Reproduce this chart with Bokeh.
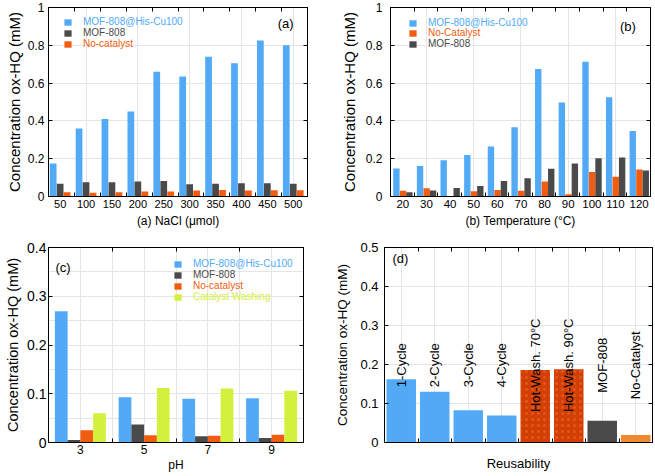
import math
from bokeh.plotting import figure
from bokeh.models import (FixedTicker, LinearAxis, Range1d, Label, Legend,
                          LegendItem, ColumnDataSource)
from bokeh.layouts import column, row
from bokeh.embed import file_html
from bokeh.resources import INLINE
from bokeh.core.properties import value

FONT = "Liberation Sans"

# ---------------- data ----------------
# (a) NaCl
nacl_labels = ["50", "100", "150", "200", "250", "300", "350", "400", "450", "500"]
a_his = [0.175, 0.36, 0.41, 0.45, 0.66, 0.635, 0.74, 0.705, 0.825, 0.80]
a_mof = [0.068, 0.076, 0.076, 0.080, 0.082, 0.065, 0.068, 0.070, 0.070, 0.068]
a_none = [0.022, 0.020, 0.022, 0.027, 0.027, 0.032, 0.035, 0.032, 0.033, 0.033]

# (b) Temperature
temp_labels = ["20", "30", "40", "50", "60", "70", "80", "90", "100", "110", "120"]
b_his = [0.148, 0.162, 0.192, 0.220, 0.265, 0.367, 0.675, 0.497, 0.713, 0.525, 0.347]
b_none = [0.030, 0.043, 0.003, 0.028, 0.035, 0.030, 0.080, 0.012, 0.130, 0.105, 0.143]
b_mof = [0.022, 0.032, 0.045, 0.055, 0.082, 0.097, 0.147, 0.175, 0.202, 0.207, 0.138]

# (c) pH
ph_labels = ["3", "5", "7", "9"]
c_his = [0.269, 0.093, 0.090, 0.091]
c_mof = [0.005, 0.037, 0.013, 0.009]
c_none = [0.025, 0.015, 0.014, 0.016]
c_wash = [0.060, 0.112, 0.111, 0.106]

# (d) Reusability
reuse_labels = ["1-Cycle", "2-Cycle", "3-Cycle", "4-Cycle",
                "Hot-Wash. 70°C", "Hot-Wash. 90°C", "MOF-808", "No-Catalyst"]
reuse_values = [0.162, 0.130, 0.083, 0.069, 0.186, 0.188, 0.056, 0.019]

# ---------------- styles ----------------
BLUE = "#52AAF6"
GRAY = "#4A4A4A"
ORANGE = "#F25C10"
GREEN = "#D3F03C"
RED = "#D33E02"
LORANGE = "#F08A30"
YLABEL = "Concentration ox-HQ (mM)"
reuse_colors = [BLUE, BLUE, BLUE, BLUE, RED, RED, GRAY, LORANGE]
reuse_hatch = [" ", " ", " ", " ", "dot", "dot", " ", " "]


def make_fig(w, h, bl, br, bt, bb, xr, ymax, yticks, ylabels,
             centers, bounds, xlabels, xtitle,
             ytick_size, ytick_standoff, ylab_size, ylab_standoff,
             xtick_size="11px", xtitle_size="12px", xtick_standoff=3, xtitle_standoff=3):
    p = figure(width=w, height=h, output_backend="svg", toolbar_location=None,
               x_range=Range1d(*xr), y_range=Range1d(0, ymax),
               x_axis_location=None, y_axis_location=None,
               min_border_left=bl, min_border_right=br,
               min_border_top=bt, min_border_bottom=bb)
    p.outline_line_color = "black"
    p.outline_line_width = 1
    p.background_fill_color = "white"
    p.border_fill_color = "white"

    def style(ax):
        ax.axis_line_color = "black"
        ax.major_tick_line_color = "black"
        ax.minor_tick_line_color = "black"
        ax.major_label_text_font = FONT
        ax.axis_label_text_font = FONT
        ax.axis_label_text_font_style = "normal"
        ax.axis_label_text_color = "black"
        ax.major_label_text_color = "black"

    # left y axis
    yl = LinearAxis(ticker=FixedTicker(ticks=yticks),
                    major_label_overrides={t: s for t, s in zip(yticks, ylabels)},
                    axis_label=YLABEL)
    style(yl)
    yl.major_tick_in = 4
    yl.major_tick_out = 0
    yl.minor_tick_in = 0
    yl.minor_tick_out = 0
    yl.major_label_text_font_size = ytick_size
    yl.major_label_standoff = ytick_standoff
    yl.axis_label_text_font_size = ylab_size
    yl.axis_label_standoff = ylab_standoff
    p.add_layout(yl, "left")

    # right mirror ticks
    yr = LinearAxis(ticker=FixedTicker(ticks=[], minor_ticks=yticks))
    style(yr)
    yr.major_tick_in = 0
    yr.major_tick_out = 0
    yr.minor_tick_in = 4
    yr.minor_tick_out = 0
    yr.major_label_standoff = 0
    p.add_layout(yr, "right")

    # bottom x axis (labels at group centres, tick marks at group boundaries)
    xb = LinearAxis(ticker=FixedTicker(ticks=centers if xlabels else [], minor_ticks=bounds),
                    axis_label=xtitle)
    if xlabels:
        xb.major_label_overrides = {c: s for c, s in zip(centers, xlabels)}
    style(xb)
    xb.major_tick_in = 0
    xb.major_tick_out = 0
    xb.minor_tick_in = 4
    xb.minor_tick_out = 0
    xb.major_label_text_font_size = xtick_size
    xb.major_label_standoff = xtick_standoff
    xb.axis_label_text_font_size = xtitle_size
    xb.axis_label_standoff = xtitle_standoff
    p.add_layout(xb, "below")

    # top mirror ticks
    xt = LinearAxis(ticker=FixedTicker(ticks=[], minor_ticks=bounds))
    style(xt)
    xt.major_tick_in = 0
    xt.major_tick_out = 0
    xt.minor_tick_in = 4
    xt.minor_tick_out = 0
    xt.major_label_standoff = 0
    p.add_layout(xt, "above")
    return p


def add_key(p, renderer, text, color, x_off, y_from_top, frame_h):
    lg = Legend(items=[LegendItem(label=text, renderers=[renderer])],
                location=(x_off, frame_h - y_from_top - 5),
                border_line_alpha=0, background_fill_alpha=0,
                padding=0, margin=0, spacing=0,
                glyph_width=9, glyph_height=8, label_height=10, label_width=10,
                label_standoff=11, label_text_font=FONT,
                label_text_font_size="10px", label_text_color=color)
    p.add_layout(lg)


def shifted(n, off):
    return [i + 1 + off for i in range(n)]


TOP_H = 230
BOT_H = 246
TOP_BT, TOP_BB = 7, 34
BOT_BT, BOT_BB = 17, 34
fh_top = TOP_H - TOP_BT - TOP_BB
fh_bot = BOT_H - BOT_BT - BOT_BB

# ---------------- panel (a) ----------------
na = len(nacl_labels)
ca = list(range(1, na + 1))
pa = make_fig(325, TOP_H, 48, 18, TOP_BT, TOP_BB, (0.55, na + 0.55), 1,
              [0, 0.2, 0.4, 0.6, 0.8, 1], ["0", "0.2", "0.4", "0.6", "0.8", "1"],
              ca, [c + 0.55 for c in ca[:-1]], nacl_labels, "(a) NaCl (μmol)",
              "12px", 4, "15px", 2)
ra1 = pa.vbar(x=shifted(na, -0.27), top=a_his, width=0.26, fill_color=BLUE, line_color=None)
ra2 = pa.vbar(x=shifted(na, 0.0), top=a_mof, width=0.26, fill_color=GRAY, line_color=None)
ra3 = pa.vbar(x=shifted(na, 0.27), top=a_none, width=0.26, fill_color=ORANGE, line_color=None)
add_key(pa, ra1, "MOF-808@His-Cu100", BLUE, 15, 15, fh_top)
add_key(pa, ra2, "MOF-808", GRAY, 15, 26, fh_top)
add_key(pa, ra3, "No-catalyst", ORANGE, 15, 37, fh_top)
pa.add_layout(Label(x=10.01, y=0.915, text="(a)", text_align="right", text_baseline="middle",
                    text_font=FONT, text_font_size="13px", text_color="black"))

# ---------------- panel (b) ----------------
nb = len(temp_labels)
cb = list(range(1, nb + 1))
pb = make_fig(330, TOP_H, 65, 5, TOP_BT, TOP_BB, (0.48, nb + 0.48), 1,
              [0, 0.2, 0.4, 0.6, 0.8, 1], ["0", "0.2", "0.4", "0.6", "0.8", "1"],
              cb, [c + 0.48 for c in cb[:-1]], temp_labels, "(b) Temperature (°C)",
              "12px", 8, "15px", 5, xtick_size="11.5px")
rb1 = pb.vbar(x=shifted(nb, -0.27), top=b_his, width=0.27, fill_color=BLUE, line_color=None)
rb2 = pb.vbar(x=shifted(nb, 0.01), top=b_none, width=0.27, fill_color=ORANGE, line_color=None)
rb3 = pb.vbar(x=shifted(nb, 0.28), top=b_mof, width=0.27, fill_color=GRAY, line_color=None)
add_key(pb, rb1, "MOF-808@His-Cu100", BLUE, 18, 16, fh_top)
add_key(pb, rb2, "No-Catalyst", ORANGE, 18, 26, fh_top)
add_key(pb, rb3, "MOF-808", GRAY, 18, 37, fh_top)
pb.add_layout(Label(x=10.86, y=0.9, text="(b)", text_align="right", text_baseline="middle",
                    text_font=FONT, text_font_size="13px", text_color="black"))

# ---------------- panel (c) ----------------
nc = len(ph_labels)
cc = list(range(1, nc + 1))
pc = make_fig(325, BOT_H, 48, 22, BOT_BT, BOT_BB, (0.5, nc + 0.5), 0.4,
              [0, 0.1, 0.2, 0.3, 0.4], ["0", "0.1", "0.2", "0.3", "0.4"],
              cc, [c + 0.5 for c in cc[:-1]], ph_labels, "pH",
              "14px", 2, "14.5px", 3, xtick_size="12px", xtick_standoff=2, xtitle_standoff=1)
rc1 = pc.vbar(x=shifted(nc, -0.3), top=c_his, width=0.2, fill_color=BLUE, line_color=None)
rc2 = pc.vbar(x=shifted(nc, -0.1), top=c_mof, width=0.2, fill_color=GRAY, line_color=None)
rc3 = pc.vbar(x=shifted(nc, 0.1), top=c_none, width=0.2, fill_color=ORANGE, line_color=None)
rc4 = pc.vbar(x=shifted(nc, 0.3), top=c_wash, width=0.2, fill_color=GREEN, line_color=None)
add_key(pc, rc1, "MOF-808@His-Cu100", BLUE, 125, 17, fh_bot)
add_key(pc, rc2, "MOF-808", GRAY, 125, 28, fh_bot)
add_key(pc, rc3, "No-catalyst", ORANGE, 125, 39, fh_bot)
add_key(pc, rc4, "Catalyst Washing", GREEN, 125, 50, fh_bot)
pc.add_layout(Label(x=0.61, y=0.359, text="(c)", text_align="left", text_baseline="middle",
                    text_font=FONT, text_font_size="13px", text_color="black"))

# ---------------- panel (d) ----------------
nd = len(reuse_labels)
cd = list(range(1, nd + 1))
pd_ = make_fig(330, BOT_H, 59, 3, BOT_BT, BOT_BB, (0.5, nd + 0.5), 0.5,
               [0, 0.1, 0.2, 0.3, 0.4, 0.5], ["0", "0.1", "0.2", "0.3", "0.4", "0.5"],
               cd, [c + 0.5 for c in cd[:-1]], None, "Reusability",
               "13px", 6, "13.5px", 7, xtitle_size="13px", xtitle_standoff=13)
src_d = ColumnDataSource(dict(x=cd, top=reuse_values, label=reuse_labels,
                              color=reuse_colors, hatch=reuse_hatch,
                              ly=[0.198] * nd))
pd_.vbar(x="x", top="top", width=0.88, source=src_d, fill_color="color",
         line_color=None, hatch_pattern="hatch", hatch_color="#F58A4A",
         hatch_alpha=0.35, hatch_scale=6, hatch_weight=0.8)
pd_.text(x="x", y="ly", text="label", source=src_d, angle=math.pi / 2,
         text_align="center", text_baseline="middle", text_font=value(FONT),
         text_font_size="13px", text_color="black")
pd_.add_layout(Label(x=0.74, y=0.472, text="(d)", text_align="left", text_baseline="middle",
                     text_font=FONT, text_font_size="13px", text_color="black"))

layout = column(row(pa, pb), row(pc, pd_))
open("out.html", "w").write(file_html(layout, INLINE))
